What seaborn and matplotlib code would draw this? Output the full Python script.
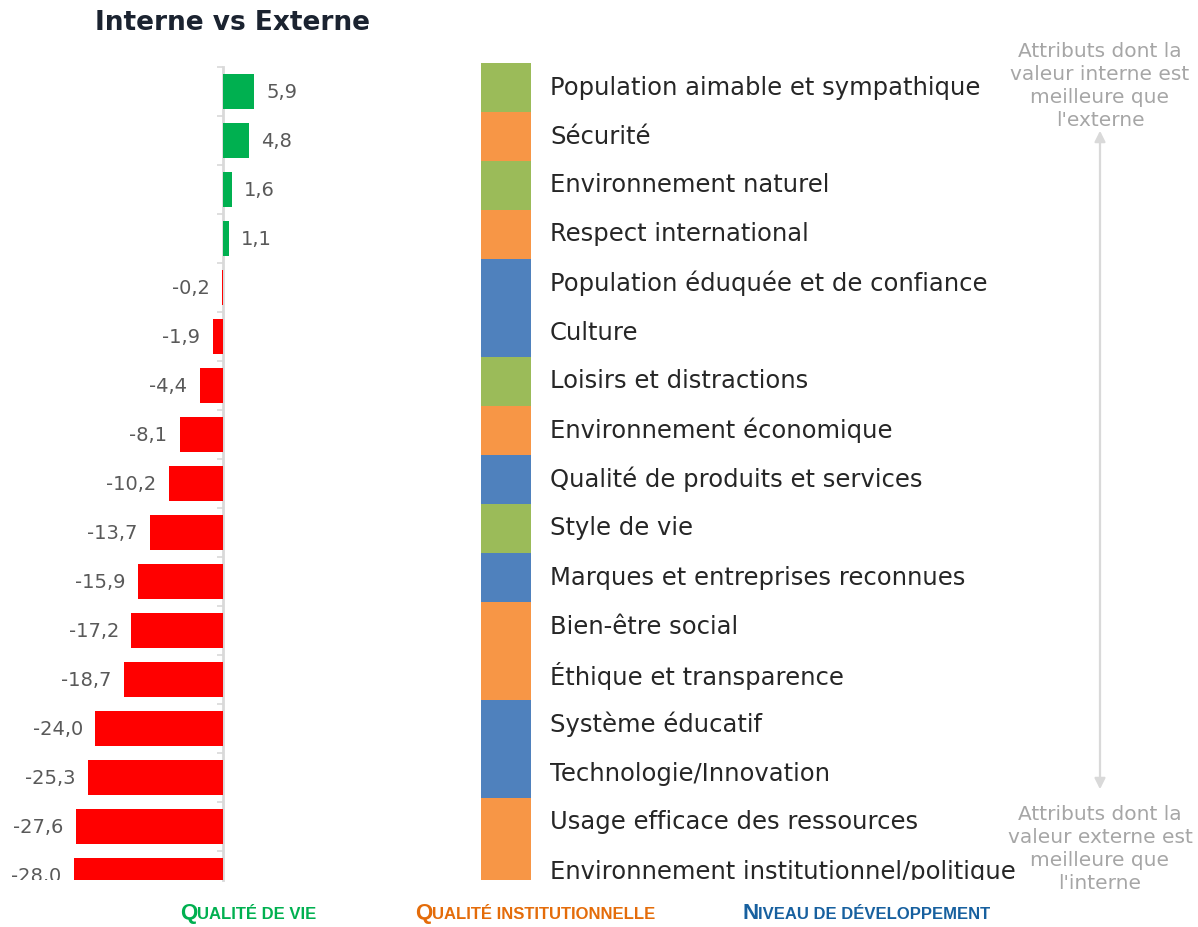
import numpy as np
import pandas as pd
import matplotlib
matplotlib.use("Agg")
import matplotlib.pyplot as plt
import seaborn as sns
from matplotlib.patches import FancyArrowPatch
from matplotlib.transforms import Bbox, TransformedBbox

# --- data -------------------------------------------------------------
categories = [
    "Population aimable et sympathique",
    "Sécurité",
    "Environnement naturel",
    "Respect international",
    "Population éduquée et de confiance",
    "Culture",
    "Loisirs et distractions",
    "Environnement économique",
    "Qualité de produits et services",
    "Style de vie",
    "Marques et entreprises reconnues",
    "Bien-être social",
    "Éthique et transparence",
    "Système éducatif",
    "Technologie/Innovation",
    "Usage efficace des ressources",
    "Environnement institutionnel/politique",
]
values = [5.9, 4.8, 1.6, 1.1, -0.2, -1.9, -4.4, -8.1, -10.2, -13.7,
          -15.9, -17.2, -18.7, -24.0, -25.3, -27.6, -28.0]
groups = ["vie", "inst", "vie", "inst", "dev", "dev", "vie", "inst", "dev",
          "vie", "dev", "inst", "inst", "dev", "dev", "inst", "inst"]

group_names = {"vie": "Qualité de vie",
               "inst": "Qualité institutionnelle",
               "dev": "Niveau de développement"}
strip_colors = {"vie": "#9BBB59", "inst": "#F79646", "dev": "#4F81BD"}
legend_colors = {"vie": "#00B050", "inst": "#E46C0A", "dev": "#17609F"}
sign_colors = {"pos": "#00B050", "neg": "#FF0000"}

title = "Interne vs Externe"
note_top = "Attributs dont la\nvaleur interne est\nmeilleure que\nl'externe"
note_bottom = "Attributs dont la\nvaleur externe est\nmeilleure que\nl'interne"

df = pd.DataFrame({"cat": categories, "val": values, "grp": groups})
df["sign"] = np.where(df["val"] >= 0, "pos", "neg")

# --- figure -----------------------------------------------------------
W, H = 1198, 927
sns.set_theme(style="white")
plt.rcParams["font.family"] = ["DejaVu Sans"]
fig = plt.figure(figsize=(W / 100, H / 100), dpi=100)
fig.patch.set_facecolor("white")


def fx(px):
    return px / W


def fy(py):
    return 1 - py / H


ROW = 49.0
BOTTOM_PX = 880
clip_box = TransformedBbox(Bbox([[0, fy(BOTTOM_PX)], [1, 1]]), fig.transFigure)

# bar panel: zero line at x=223 px, 5.32 px per unit
ax_l, ax_r, ax_t = 40, 470, 67
px_per_unit = 5.32
ax1 = fig.add_axes([fx(ax_l), fy(BOTTOM_PX), fx(ax_r - ax_l), (BOTTOM_PX - ax_t) / H])
sns.barplot(data=df, x="val", y="cat", hue="sign", palette=sign_colors,
            order=categories, dodge=False, width=0.7, saturation=1,
            linewidth=0, legend=False, orient="h", ax=ax1)
for p in ax1.patches:
    p.set_zorder(3)
for s in ["top", "right", "bottom"]:
    ax1.spines[s].set_visible(False)
ax1.spines["left"].set_position(("data", 0))
ax1.spines["left"].set_color("#D9D9D9")
ax1.spines["left"].set_linewidth(2)
ax1.set_yticks(np.arange(-0.5, len(categories), 1.0))
ax1.set_yticklabels([])
ax1.tick_params(axis="y", length=4, width=1.2, color="#D9D9D9", direction="out", left=True)
ax1.set_xticks([])
ax1.set_xlabel("")
ax1.set_ylabel("")
ax1.set_xlim(-(223 - ax_l) / px_per_unit, (ax_r - 223) / px_per_unit)
ax1.set_ylim(-0.5 + (BOTTOM_PX - ax_t) / ROW, -0.5)
ax1.patch.set_alpha(0)

for i, v in enumerate(values):
    lbl = f"{v:.1f}".replace(".", ",")
    off = 9 if v >= 0 else -9
    t = ax1.annotate(lbl, xy=(v, i), xytext=(off, -1), textcoords="offset points",
                     ha="left" if v >= 0 else "right", va="center",
                     fontsize=14, color="#595959", annotation_clip=False)
    t.set_clip_box(clip_box)
    t.set_clip_on(True)

# category colour strip
st_l, st_r, st_t = 481, 531, 63
ax2 = fig.add_axes([fx(st_l), fy(BOTTOM_PX), fx(st_r - st_l), (BOTTOM_PX - st_t) / H])
sns.barplot(data=df.assign(one=1.0), x="one", y="cat", hue="grp", palette=strip_colors,
            order=categories, dodge=False, width=1.0, saturation=1,
            linewidth=0, legend=False, orient="h", ax=ax2)
ax2.set_xlim(0, 1)
ax2.set_ylim(-0.5 + (BOTTOM_PX - st_t) / ROW, -0.5)
ax2.axis("off")
for i, c in enumerate(categories):
    t = ax2.text((550 - st_l) / (st_r - st_l), i, c, transform=ax2.get_yaxis_transform(),
                 ha="left", va="center", fontsize=17.5, color="#262626")
    t.set_clip_box(clip_box)
    t.set_clip_on(True)

# title
fig.text(fx(95), fy(23), title, ha="left", va="center", fontsize=19,
         fontweight="bold", color="#1B2330")

# side notes with double arrow
fig.text(fx(1100), fy(86), note_top, ha="center", va="center", fontsize=14.5,
         color="#A6A6A6", linespacing=1.27)
fig.text(fx(1100), fy(849), note_bottom, ha="center", va="center", fontsize=14.5,
         color="#A6A6A6", linespacing=1.27, zorder=1)
arrow = FancyArrowPatch((fx(1100), fy(128)), (fx(1100), fy(792)),
                        transform=fig.transFigure, arrowstyle="<|-|>",
                        mutation_scale=16, color="#D9D9D9", lw=1.6)
fig.add_artist(arrow)

# group legend in small caps
legend_x = {"vie": 180, "inst": 415, "dev": 742}
base_y = fy(919)
legend_font = ["Liberation Sans", "DejaVu Sans"]
for key, x0 in legend_x.items():
    name = group_names[key]
    first = fig.text(fx(x0), base_y, name[0].upper(), ha="left", va="baseline",
                     fontsize=16, fontweight="bold", color=legend_colors[key],
                     family=legend_font)
    plt.annotate(name[1:].upper(), xy=(1, base_y), xycoords=(first, "figure fraction"),
                 ha="left", va="baseline", fontsize=12, fontweight="bold",
                 color=legend_colors[key], family=legend_font,
                 annotation_clip=False)

fig.savefig("out.png", dpi=100, facecolor="white")
